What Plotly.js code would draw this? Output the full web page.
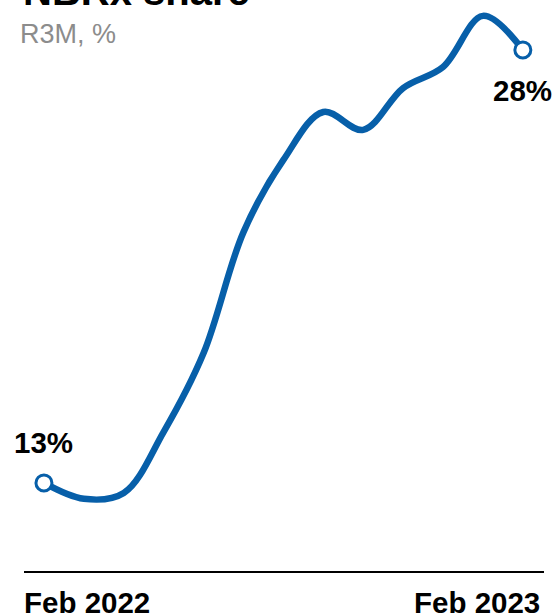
<!DOCTYPE html>
<html>
<head>
<meta charset="utf-8">
<script src="https://cdn.plot.ly/plotly-3.0.1.min.js"></script>
<style>
  html, body { margin: 0; padding: 0; background: #fff; }
  #chart { width: 558px; height: 616px; }
</style>
</head>
<body>
<div id="chart"></div>
<script>
const months = ["Feb 2022","Mar 2022","Apr 2022","May 2022","Jun 2022","Jul 2022","Aug 2022",
                "Sep 2022","Oct 2022","Nov 2022","Dec 2022","Jan 2023","Feb 2023"];
const share = [13.0, 12.45, 12.65, 14.77, 17.5, 21.69, 24.19, 25.85, 25.23, 26.68, 27.41, 29.18, 28.0];
const tickLabels = ["Feb 2022", "Feb 2023"];
const titleText = "NBRx share";
const subtitleText = "R3M, %";

const BLUE = "#075fa9";
const FONT = "Liberation Sans, Arial, sans-serif";
const last = months.length - 1;

const traces = [
  {
    x: months, y: share, type: "scatter", mode: "lines",
    line: { color: BLUE, width: 6.5, shape: "spline", smoothing: 1 },
    hoverinfo: "skip"
  },
  {
    x: [months[0], months[last]], y: [share[0], share[last]],
    type: "scatter", mode: "markers",
    marker: { symbol: "circle", size: 16, color: "#ffffff", line: { color: BLUE, width: 3 } },
    hoverinfo: "skip"
  }
];

const layout = {
  width: 558, height: 616,
  margin: { l: 24, r: 14, t: 0, b: 45, pad: 0 },
  paper_bgcolor: "#ffffff", plot_bgcolor: "#ffffff",
  showlegend: false,
  font: { family: FONT, color: "#000" },
  xaxis: {
    type: "category", range: [-0.5, 12.53],
    showline: true, linecolor: "#000", linewidth: 2,
    showgrid: false, zeroline: false, showticklabels: false, ticks: ""
  },
  yaxis: {
    range: [9.95, 29.73], visible: false, showgrid: false, zeroline: false
  },
  annotations: [
    { text: "<b>" + titleText + "</b>", xref: "paper", yref: "paper", x: -0.006, y: 1.0163,
      xanchor: "left", yanchor: "middle", showarrow: false, font: { size: 40, color: "#000", family: FONT } },
    { text: subtitleText, xref: "paper", yref: "paper", x: -0.012, y: 0.940,
      xanchor: "left", yanchor: "middle", showarrow: false, font: { size: 27, color: "#8c8c8c", family: FONT } },
    { text: "<b>" + tickLabels[0] + "</b>", xref: "paper", yref: "paper", x: -0.003, y: -0.0543,
      xanchor: "left", yanchor: "middle", showarrow: false, font: { size: 29.5, color: "#000", family: FONT } },
    { text: "<b>" + tickLabels[1] + "</b>", xref: "paper", yref: "paper", x: 0.996, y: -0.0543,
      xanchor: "right", yanchor: "middle", showarrow: false, font: { size: 29.5, color: "#000", family: FONT } },
    { text: "<b>" + Math.round(share[0]) + "%</b>", xref: "x", yref: "y", x: months[0], y: share[0],
      yshift: 40, xanchor: "center", yanchor: "middle", showarrow: false, font: { size: 29.5, color: "#000", family: FONT } },
    { text: "<b>" + Math.round(share[last]) + "%</b>", xref: "x", yref: "y", x: months[last], y: share[last],
      yshift: -41, xanchor: "center", yanchor: "middle", showarrow: false, font: { size: 29.5, color: "#000", family: FONT } }
  ]
};

Plotly.newPlot("chart", traces, layout, { displayModeBar: false, staticPlot: true });
</script>
</body>
</html>
